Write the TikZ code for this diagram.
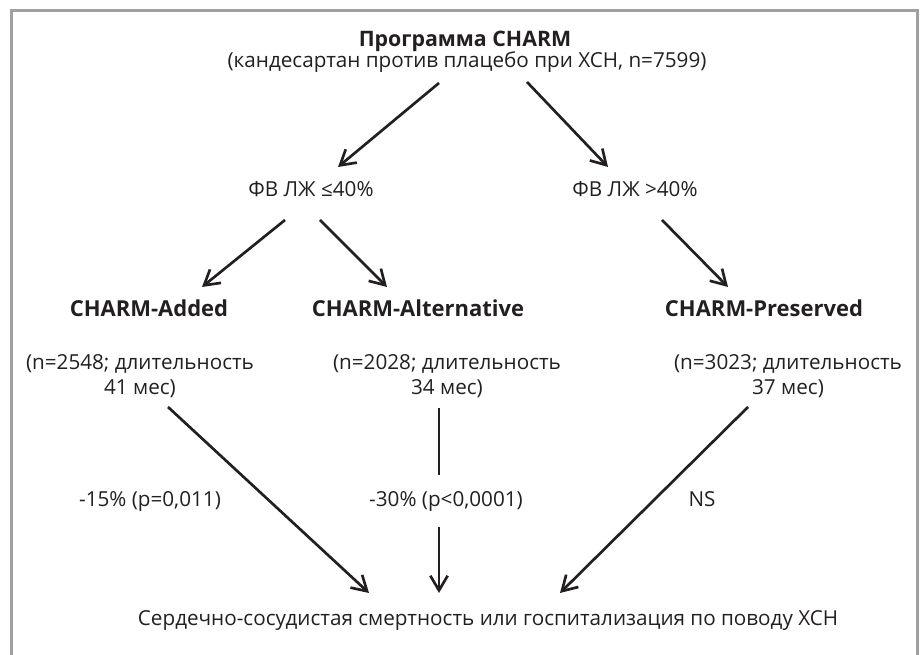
\documentclass[tikz,border=0pt]{standalone}
\usepackage{fontspec}
\setmainfont{Open Sans}
\usetikzlibrary{arrows.meta,calc}

\tikzset{every picture/.style={line width=0.75pt}}
\definecolor{inkblk}{RGB}{35,31,32}
\definecolor{framegray}{RGB}{160,160,160}
\tikzset{
  txt/.style={anchor=base,inner sep=0.75pt,text=inkblk,align=center,font=\fontsize{15.5}{18.75}\selectfont},
  hdr/.style={txt,font=\fontsize{16.5}{18.75}\selectfont\bfseries},
  arr/.style={draw=inkblk,line width=2pt,-{Straight Barb[length=11pt,width=13pt]}},
  ln/.style={draw=inkblk,line width=2pt},
}

\begin{document}
\begin{tikzpicture}[x=0.75pt,y=0.75pt,yscale=-1,xscale=1]
\useasboundingbox (0,0) rectangle (922,655);

%Frame
\draw [framegray,line width=1.9pt] (11.5,655) -- (11.5,10.5) -- (917.5,10.5) -- (917.5,655);

% Text Node
\draw (465,47) node [hdr,font=\fontsize{16}{18.75}\selectfont\bfseries] (title) {Программа CHARM};
% Text Node
\draw (467,68) node [txt] (sub) {(кандесартан против плацебо при ХСН, n=7599)};
% Text Node
\draw (311,197) node [txt] (lowEF) {ФВ ЛЖ ≤40\%};
% Text Node
\draw (635,197) node [txt] (highEF) {ФВ ЛЖ >40\%};
% Text Node
\draw (149,317) node [hdr] (added) {CHARM-Added};
% Text Node
\draw (418,317) node [hdr] (alt) {CHARM-Alternative};
% Text Node
\draw (764,317) node [hdr] (pres) {CHARM-Preserved};
% Text Node
\draw (140,395) node [txt] (addedN) {(n=2548; длительность\\41 мес)};
% Text Node
\draw (447,395) node [txt] (altN) {(n=2028; длительность\\34 мес)};
% Text Node
\draw (788,395) node [txt] (presN) {(n=3023; длительность\\37 мес)};
% Text Node
\draw (150,507) node [txt] (eff1) {-15\% (p=0,011)};
% Text Node
\draw (446,507) node [txt] (eff2) {-30\% (p<0,0001)};
% Text Node
\draw (702,507) node [txt] (eff3) {NS};
% Text Node
\draw (488,626) node [txt] (outcome) {Сердечно-сосудистая смертность или госпитализация по поводу ХСН};

%Straight Lines
\draw [arr] ($(sub.base)+(-28,15)$) -- ($(lowEF.base)+(27,-30)$);
\draw [arr] ($(sub.base)+(60,14)$) -- ($(highEF.base)+(-27,-30)$);
%Straight Lines
\draw [arr] ($(lowEF.base)+(-26,23)$) -- ($(added.base)+(53,-30)$);
\draw [arr] ($(lowEF.base)+(9,23)$) -- ($(alt.base)+(-31,-30)$);
\draw [arr] ($(highEF.base)+(27,23)$) -- ($(pres.base)+(-36,-30)$);
%Straight Lines
\draw [arr] ($(addedN.base)+(28,12)$) -- ($(outcome.base)+(-119,-33)$);
\draw [ln] ($(altN.base)+(-8,13)$) -- ($(eff2.base)+(-7,-32)$);
\draw [arr] ($(eff2.base)+(-7,20)$) -- ($(outcome.base)+(-49,-33)$);
\draw [arr] ($(presN.base)+(-40,12)$) -- ($(outcome.base)+(72,-33)$);

\end{tikzpicture}
\end{document}
